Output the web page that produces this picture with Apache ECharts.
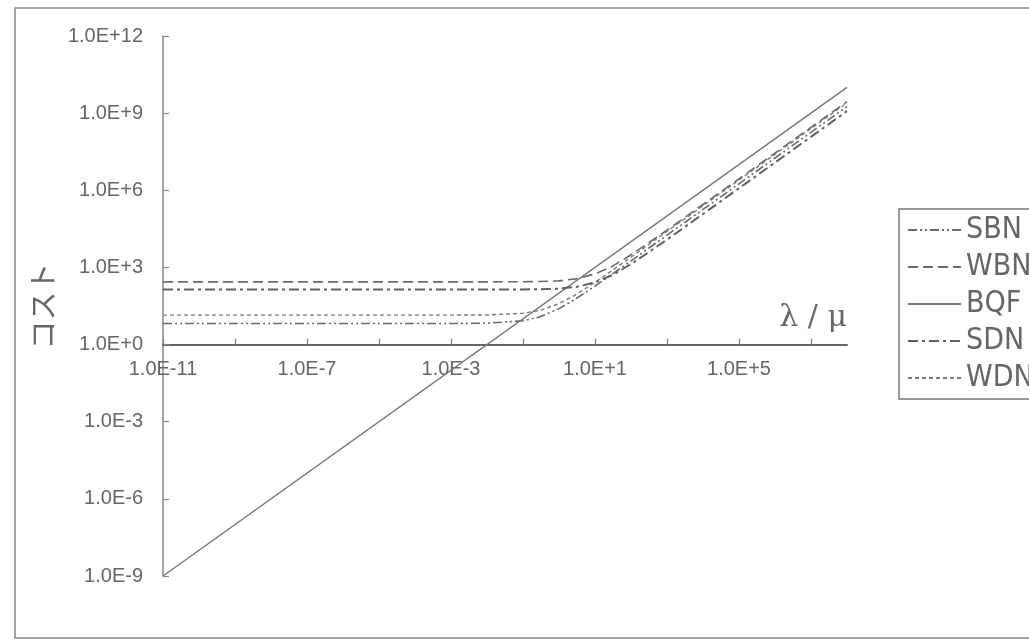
<!DOCTYPE html>
<html>
<head>
<meta charset="utf-8">
<script src="https://cdn.jsdelivr.net/npm/echarts@6/dist/echarts.min.js"></script>
<style>
  html, body { margin: 0; padding: 0; background: #fff; }
  #chart { width: 1029px; height: 640px; }
</style>
</head>
<body>
<div id="chart"></div>
<script>
const xValues = [1e-11, 1e-3, 1e-2, 1e-1, 0.3, 1, 3, 10, 30, 100, 1e3, 1e4, 1e6, 1e8];

// cost values read for each series at the x values above
const sbnValues = [6.6, 6.6, 6.8, 8.4, 12, 25, 61, 190, 550, 1800, 1.8e4, 1.8e5, 1.8e7, 1.8e9];
const wbnValues = [275, 275, 275, 278, 284, 300, 360, 560, 1100, 3100, 2.8e4, 2.8e5, 2.8e7, 2.8e9];
const sdnValues = [138, 138, 138, 139, 142, 150, 174, 260, 500, 1340, 1.2e4, 1.2e5, 1.2e7, 1.2e9];
const wdnValues = [14, 14, 14.2, 16.5, 21.5, 39, 89, 264, 760, 2500, 2.5e4, 2.5e5, 2.5e7, 2.5e9];
const bqfX = [1e-11, 1e8];
const bqfValues = [1e-9, 1e10];

// axis ticks and labels
const xTickValues = [1e-11, 1e-9, 1e-7, 1e-5, 1e-3, 1e-1, 1e1, 1e3, 1e5, 1e7];
const xLabelValues = [1e-11, 1e-7, 1e-3, 1e1, 1e5];
const yTickValues = [1e-9, 1e-6, 1e-3, 1, 1e3, 1e6, 1e9, 1e12];

const GRID_LEFT = 163, GRID_TOP = 36, GRID_W = 684, GRID_H = 540;
const TEXT = '#666';
const AXIS_FONT = "'Liberation Sans', Arial, sans-serif";
const NARROW_FONT = "'Liberation Sans Narrow', 'DejaVu Sans Condensed', 'Liberation Sans', sans-serif";

function sciLabel(v) {
    const e = Math.round(Math.log10(v));
    return '1.0E' + (e < 0 ? '-' : '+') + Math.abs(e);
}

function pairs(xs, ys) {
    return xs.map((x, i) => [x, ys[i]]);
}

function lineSeries(name, xs, ys, color, width, type) {
    return {
        name: name,
        type: 'line',
        symbol: 'none',
        data: pairs(xs, ys),
        lineStyle: { color: color, width: width, type: type },
        itemStyle: { color: color },
        emphasis: { disabled: true }
    };
}

const chart = echarts.init(document.getElementById('chart'));

// distance from grid bottom (1E-9) up to 1E+0 : 9 of 21 decades
const xAxisOffset = -GRID_H * 9 / 21;

const option = {
    animation: false,
    backgroundColor: '#fff',
    grid: { left: GRID_LEFT, top: GRID_TOP, width: GRID_W, height: GRID_H },
    legend: {
        orient: 'vertical',
        left: 899,
        top: 209,
        padding: [6, 80, 6, 8],
        borderColor: '#777',
        borderWidth: 1.5,
        itemWidth: 53,
        itemHeight: 14,
        itemGap: 7,
        itemStyle: { opacity: 0 },
        textStyle: { fontSize: 30, fontFamily: NARROW_FONT, color: TEXT },
        data: ['SBN', 'WBN', 'BQF', 'SDN', 'WDN']
    },
    xAxis: {
        type: 'log',
        logBase: 10,
        min: 1e-11,
        max: 1e8,
        position: 'bottom',
        offset: xAxisOffset,
        axisLine: { lineStyle: { color: '#666', width: 2 } },
        axisTick: { inside: true, length: 6, customValues: xTickValues, lineStyle: { color: '#777', width: 1.2 } },
        axisLabel: {
            customValues: xLabelValues,
            formatter: sciLabel,
            margin: 15,
            color: TEXT,
            fontSize: 20,
            fontFamily: AXIS_FONT
        },
        splitLine: { show: false },
        minorTick: { show: false }
    },
    yAxis: {
        type: 'log',
        logBase: 10,
        min: 1e-9,
        max: 1e12,
        name: 'コスト',
        nameLocation: 'middle',
        nameRotate: 90,
        nameGap: 94,
        nameTextStyle: { fontSize: 29, color: TEXT, fontFamily: "'Noto Sans CJK JP', sans-serif" },
        axisLine: { show: true, lineStyle: { color: '#888', width: 1.5 } },
        axisTick: { show: true, inside: true, length: 6, customValues: yTickValues, lineStyle: { color: '#888', width: 1.2 } },
        axisLabel: {
            customValues: yTickValues,
            formatter: sciLabel,
            margin: 20,
            color: TEXT,
            fontSize: 20,
            fontFamily: AXIS_FONT
        },
        splitLine: { show: false }
    },
    graphic: [
        {
            type: 'rect',
            shape: { x: 15, y: 8, width: 1030, height: 630 },
            style: { fill: 'none', stroke: '#888', lineWidth: 1.5 },
            silent: true
        },
        {
            type: 'text',
            right: 1029 - 847,
            top: 303,
            style: { text: 'λ / μ', fontSize: 30, fontFamily: "'DejaVu Serif', serif", fill: TEXT }
        }
    ],
    series: [
        lineSeries('SBN', xValues, sbnValues, '#6a6a6a', 1.6, [9, 3, 2, 3, 2, 3]),
        lineSeries('WBN', xValues, wbnValues, '#6a6a6a', 1.6, [10, 5]),
        lineSeries('BQF', bqfX, bqfValues, '#777', 1.5, 'solid'),
        lineSeries('SDN', xValues, sdnValues, '#606060', 2, [10, 4, 3, 4]),
        lineSeries('WDN', xValues, wdnValues, '#7a7a7a', 1.4, [4, 3])
    ]
};

chart.setOption(option);
window.addEventListener('resize', () => chart.resize());
</script>
</body>
</html>
